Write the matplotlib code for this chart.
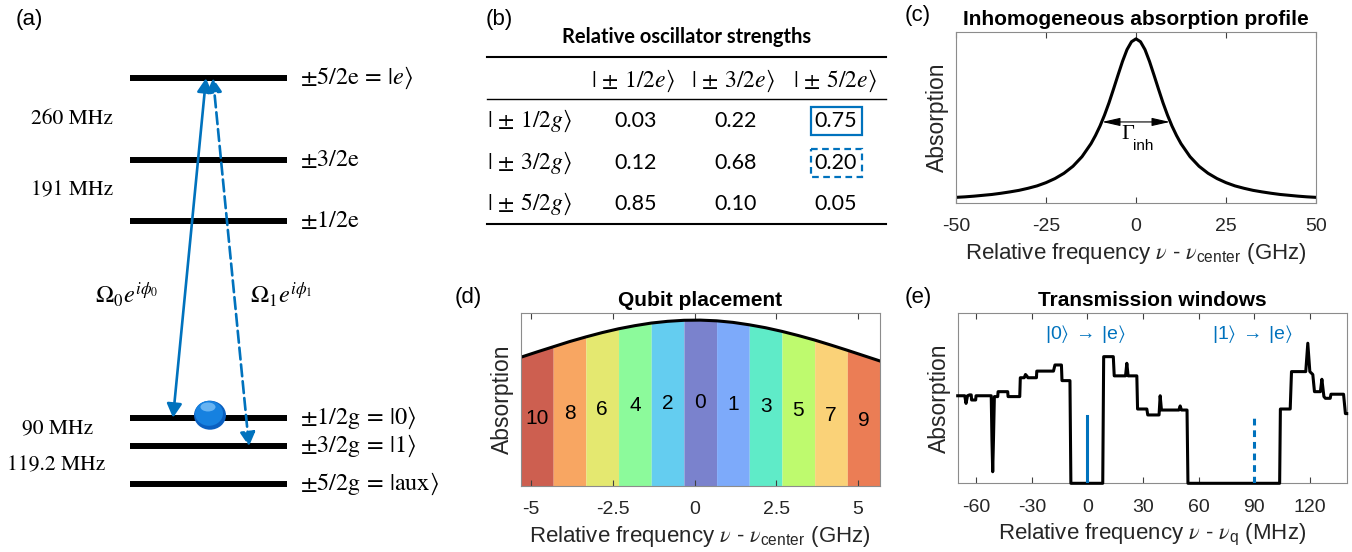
import matplotlib
matplotlib.use('Agg')
import matplotlib.pyplot as plt
from matplotlib.patches import FancyArrowPatch, Rectangle, Ellipse
import numpy as np

plt.rcParams.update({
    'font.family': 'Liberation Sans',
    'mathtext.fontset': 'custom',
    'mathtext.rm': 'Liberation Sans',
    'mathtext.it': 'STIXGeneral:italic',
    'mathtext.bf': 'Liberation Sans:bold',
    'mathtext.fallback': 'stix',
    'axes.unicode_minus': False,
})

BLUE = '#0072BD'
GREY = '#262626'

# ---------------- data ----------------
# (a) hyperfine splittings (MHz), ground manifold bottom-up, excited manifold bottom-up
ground_splittings = [119.2, 90.0]
excited_splittings = [191.0, 260.0]
ground_labels = [r'$\pm5/2\mathrm{g}\,=\,|\mathrm{aux}\rangle$',
                 r'$\pm3/2\mathrm{g}\,=\,|1\rangle$',
                 r'$\pm1/2\mathrm{g}\,=\,|0\rangle$']
excited_labels = [r'$\pm1/2\mathrm{e}$', r'$\pm3/2\mathrm{e}$',
                  r'$\pm5/2\mathrm{e}\,=\,|e\rangle$']

# (b) relative oscillator strengths
table_title = 'Relative oscillator strengths'
col_labels = [r'$|\,\pm\,1/2e\rangle$', r'$|\,\pm\,3/2e\rangle$', r'$|\,\pm\,5/2e\rangle$']
row_labels = [r'$|\,\pm\,1/2g\rangle$', r'$|\,\pm\,3/2g\rangle$', r'$|\,\pm\,5/2g\rangle$']
strengths = [[0.03, 0.22, 0.75],
             [0.12, 0.68, 0.20],
             [0.85, 0.10, 0.05]]

# (c) inhomogeneous profile (GHz, arb.)
c_freq = [-50, -47.5, -45, -42.5, -40, -37.5, -35, -32.5, -30, -27.5, -25, -22.5,
          -20, -17.5, -15, -12.5, -11.25, -10, -8.75, -7.5, -6.25, -5, -3.75, -2.5,
          -1.25, 0, 1.25, 2.5, 3.75, 5, 6.25, 7.5, 8.75, 10, 11.25, 12.5, 15, 17.5,
          20, 22.5, 25, 27.5, 30, 32.5, 35, 37.5, 40, 42.5, 45, 47.5, 50]
c_abs = [0.033, 0.036, 0.040, 0.045, 0.050, 0.057, 0.065, 0.074, 0.086, 0.100, 0.119, 0.143,
         0.174, 0.215, 0.271, 0.347, 0.395, 0.450, 0.514, 0.586, 0.666, 0.748, 0.828, 0.897,
         0.943, 0.960, 0.943, 0.897, 0.828, 0.748, 0.666, 0.586, 0.514, 0.450, 0.395, 0.347,
         0.271, 0.215, 0.174, 0.143, 0.119, 0.100, 0.086, 0.074, 0.065, 0.057, 0.050, 0.045,
         0.040, 0.036, 0.033]
fwhm_edges = [-9.4, 9.4]
half_max = 0.474

# (d) qubit placement: band edges / centres and profile at those points
d_freq = [-5.33, -4.83, -4.33, -3.83, -3.33, -2.83, -2.33, -1.83, -1.33, -0.83, -0.33, 0.17,
          0.67, 1.17, 1.67, 2.17, 2.67, 3.17, 3.67, 4.17, 4.67, 5.17, 5.67]
d_abs = [0.741, 0.772, 0.802, 0.832, 0.859, 0.884, 0.906, 0.924, 0.939, 0.949, 0.955, 0.956,
         0.952, 0.943, 0.929, 0.912, 0.891, 0.867, 0.841, 0.812, 0.782, 0.751, 0.720]
qubit_ids = ['10', '8', '6', '4', '2', '0', '1', '3', '5', '7', '9']
band_colors = ['#CD5F50', '#F8A662', '#E4E870', '#8CFA9B', '#64CDF0', '#7A82CD',
               '#7DAAFA', '#5FEBC8', '#BEFA6E', '#FAD278', '#EB7D55']

# (e) transmission windows (MHz, arb.)
e_freq = [-70.0, -66.2, -65.5, -64.7, -63.6, -62.7, -62.5, -60.3, -60.1, -51.9, -51.5, -51.1,
          -50.7, -50.2, -48.4, -48.2, -43.0, -42.8, -36.5, -36.2, -34.1, -33.4, -32.6, -32.1,
          -27.5, -27.3, -18.3, -17.5, -14.0, -13.7, -9.4, -8.9, 8.3, 8.8, 14.0, 14.5,
          20.6, 21.3, 22.0, 26.7, 27.1, 32.1, 32.6, 38.7, 39.3, 40.0, 49.4, 50.1,
          50.8, 53.8, 54.3, 103.8, 104.2, 109.5, 110.2, 117.9, 119.0, 120.1, 121.7, 122.6,
          125.8, 126.6, 127.7, 128.5, 131.1, 131.5, 138.3, 139.3, 140.0]
e_abs = [0.515, 0.515, 0.470, 0.515, 0.520, 0.520, 0.490, 0.490, 0.515, 0.515, 0.250, 0.068,
         0.250, 0.510, 0.510, 0.539, 0.539, 0.510, 0.510, 0.621, 0.621, 0.640, 0.630, 0.621,
         0.621, 0.660, 0.660, 0.696, 0.696, 0.604, 0.604, 0.0, 0.0, 0.745, 0.745, 0.632,
         0.632, 0.706, 0.632, 0.632, 0.437, 0.437, 0.402, 0.402, 0.515, 0.431, 0.431, 0.455,
         0.431, 0.431, 0.0, 0.0, 0.437, 0.437, 0.657, 0.657, 0.824, 0.657, 0.640, 0.539,
         0.539, 0.612, 0.510, 0.500, 0.500, 0.524, 0.524, 0.410, 0.410]
qubit_freqs = [0, 90]
qubit_texts = [r'$|0\rangle\;\rightarrow\;|\mathrm{e}\rangle$',
               r'$|1\rangle\;\rightarrow\;|\mathrm{e}\rangle$']
marker_height = 0.396

fig = plt.figure(figsize=(13.52, 5.52), dpi=100)

# pixel overlay for panel letters and the table
ax_px = fig.add_axes([0, 0, 1, 1])
ax_px.set_xlim(0, 1352)
ax_px.set_ylim(552, 0)
ax_px.axis('off')

for lab, x, y in [('(a)', 16, 19), ('(b)', 486, 19), ('(c)', 905, 15),
                  ('(d)', 455, 297), ('(e)', 905, 297)]:
    ax_px.text(x, y, lab, fontsize=16, ha='left', va='center')

# ---------------- (a) level scheme ----------------
ax_a = fig.add_axes([0, 0, 460 / 1352, 1])
ax_a.set_xlim(0, 460)
ax_a.set_ylim(-215, 1529)
ax_a.axis('off')

gap = 831  # drawing offset between manifolds
g_lv = np.concatenate([[0], np.cumsum(ground_splittings)])
e_lv = gap + np.concatenate([[0], np.cumsum(excited_splittings)])

for y, lab in zip(list(g_lv) + list(e_lv), ground_labels + excited_labels):
    ax_a.plot([130, 287], [y, y], color='k', lw=4.3, solid_capstyle='butt', zorder=2)
    ax_a.text(300, y, lab, fontsize=17.5, va='center', math_fontfamily='stix')

split_x = [7, 22, 31, 31]
mids = [(g_lv[0] + g_lv[1]) / 2, (g_lv[1] + g_lv[2]) / 2 + 12,
        (e_lv[0] + e_lv[1]) / 2, (e_lv[1] + e_lv[2]) / 2]
for s, x, y in zip(ground_splittings + excited_splittings, split_x, mids):
    ax_a.text(x, y, f'{s:g} MHz', fontsize=15.5, va='center', family='STIXGeneral')

arr0 = FancyArrowPatch((173, g_lv[2]), (206, e_lv[2]),
                       arrowstyle='<|-|>,head_length=0.55,head_width=0.3', mutation_scale=15,
                       color=BLUE, lw=1.9, shrinkA=0, shrinkB=0, zorder=4)
arr1 = FancyArrowPatch((249, g_lv[1]), (213, e_lv[2]),
                       arrowstyle='<|-|>,head_length=0.55,head_width=0.3', mutation_scale=15,
                       color=BLUE, lw=1.9, ls=(0, (4.5, 1.9)), shrinkA=0, shrinkB=0, zorder=4)
ax_a.add_patch(arr0)
ax_a.add_patch(arr1)
ax_a.text(95, 597, r'$\Omega_0e^{i\phi_0}$', fontsize=17.5, va='center', math_fontfamily='stix')
ax_a.text(250, 597, r'$\Omega_1e^{i\phi_1}$', fontsize=17.5, va='center', math_fontfamily='stix')

# population ball on |0>
ax_a.add_patch(Ellipse((210, g_lv[2] + 8), 32, 29 * 3.16, facecolor='#0a5fc0',
                       edgecolor='none', zorder=5))
ax_a.add_patch(Ellipse((209, g_lv[2] + 14), 28, 25 * 3.16, facecolor='#1681e0',
                       edgecolor='none', zorder=5))
ax_a.add_patch(Ellipse((208, g_lv[2] + 34), 15, 9 * 3.16, facecolor='#7cc0f7',
                       edgecolor='none', alpha=0.8, zorder=5))

# ---------------- (b) table ----------------
ax_px.text(687, 37, table_title, fontsize=14.5, fontweight='bold', family='Lato',
           ha='center', va='center')
for y, lw in [(57, 1.5), (99, 1.0), (224, 1.5)]:
    ax_px.plot([487, 886], [y, y], color='k', lw=lw)
col_x = [636, 736, 836]
row_y = [121, 163, 204]
for x, lab in zip([633, 733, 835], col_labels):
    ax_px.text(x, 81, lab, fontsize=17, ha='center', va='center', math_fontfamily='stix')
for y, lab, vals in zip(row_y, row_labels, strengths):
    ax_px.text(487, y, lab, fontsize=17, ha='left', va='center', math_fontfamily='stix')
    for x, v in zip(col_x, vals):
        ax_px.text(x, y, f'{v:.2f}', fontsize=15.5, family='Lato', ha='center', va='center')
ax_px.add_patch(Rectangle((col_x[2] - 25.5, row_y[0] - 14), 51, 28, fill=False,
                          edgecolor=BLUE, lw=1.6))
ax_px.add_patch(Rectangle((col_x[2] - 25.5, row_y[1] - 14), 51, 28, fill=False,
                          edgecolor=BLUE, lw=1.6, ls=(0, (3, 2))))


def matlab_style(ax):
    for s in ax.spines.values():
        s.set_color('#8c8c8c')
        s.set_linewidth(0.8)
    ax.tick_params(axis='x', direction='in', top=True, length=4, width=0.8,
                   color='#404040', labelsize=14, labelcolor=GREY, pad=11)
    ax.set_yticks([])
    ax.set_ylim(0, 1)
    ax.set_ylabel('Absorption', fontsize=16.5, color=GREY, labelpad=5)


# ---------------- (c) ----------------
ax_c = fig.add_axes([956 / 1352, (552 - 203) / 552, 360 / 1352, 171 / 552])
matlab_style(ax_c)
ax_c.plot(c_freq, c_abs, color='k', lw=2.2)
ax_c.set_xlim(-50, 50)
ax_c.set_xticks([-50, -25, 0, 25, 50])
ax_c.set_title('Inhomogeneous absorption profile', fontsize=15, fontweight='bold', pad=5)
ax_c.set_xlabel(r'Relative frequency $\nu$ - $\nu_{\mathrm{center}}$ (GHz)', fontsize=16,
                color=GREY, labelpad=4)
ax_c.annotate('', xy=(fwhm_edges[0], half_max), xytext=(fwhm_edges[1], half_max),
              arrowprops=dict(arrowstyle='<|-|>,head_length=1.1,head_width=0.25',
                              mutation_scale=10, color='k', lw=0.8, shrinkA=0, shrinkB=0))
ax_c.text(-2.4, 0.398, 'Γ', fontsize=16, family='Liberation Serif', ha='center', va='center')
ax_c.text(1.9, 0.335, 'inh', fontsize=11, ha='center', va='center')

# ---------------- (d) ----------------
ax_d = fig.add_axes([520.5 / 1352, (552 - 485.7) / 552, 359.5 / 1352, 173.2 / 552])
matlab_style(ax_d)
for i, (qid, col) in enumerate(zip(qubit_ids, band_colors)):
    xs = d_freq[2 * i:2 * i + 3]
    ys = d_abs[2 * i:2 * i + 3]
    ax_d.fill_between(xs, 0, ys, color=col, lw=0)
    ax_d.text(xs[1], ys[1] / 2, qid, fontsize=15, ha='center', va='center')
ax_d.plot(d_freq, d_abs, color='k', lw=2.2)
ax_d.set_xlim(d_freq[0], d_freq[-1])
ax_d.set_xticks([-5, -2.5, 0, 2.5, 5])
ax_d.set_xticklabels(['-5', '-2.5', '0', '2.5', '5'])
ax_d.set_title('Qubit placement', fontsize=15, fontweight='bold', pad=5)
ax_d.set_xlabel(r'Relative frequency $\nu$ - $\nu_{\mathrm{center}}$ (GHz)', fontsize=16,
                color=GREY, labelpad=4)

# ---------------- (e) ----------------
ax_e = fig.add_axes([957.7 / 1352, (552 - 483.3) / 552, 389 / 1352, 170 / 552])
matlab_style(ax_e)
ax_e.plot(e_freq, e_abs, color='k', lw=2.2, clip_on=False, zorder=3)
ax_e.plot([qubit_freqs[0]] * 2, [0, marker_height], color=BLUE, lw=2.2, zorder=4)
ax_e.plot([qubit_freqs[1]] * 2, [0, marker_height], color=BLUE, lw=2.2, ls=(0, (2.2, 1.6)),
          zorder=4)
for f, t in zip(qubit_freqs, qubit_texts):
    ax_e.text(f - 1, 0.88, t, fontsize=14, color=BLUE, ha='center', va='center')
ax_e.set_xlim(-70, 140)
ax_e.set_xticks([-60, -30, 0, 30, 60, 90, 120])
ax_e.set_title('Transmission windows', fontsize=15, fontweight='bold', pad=5)
ax_e.set_xlabel(r'Relative frequency $\nu$ - $\nu_{\mathrm{q}}$ (MHz)', fontsize=16,
                color=GREY, labelpad=4)

fig.savefig('out.png', dpi=100)
